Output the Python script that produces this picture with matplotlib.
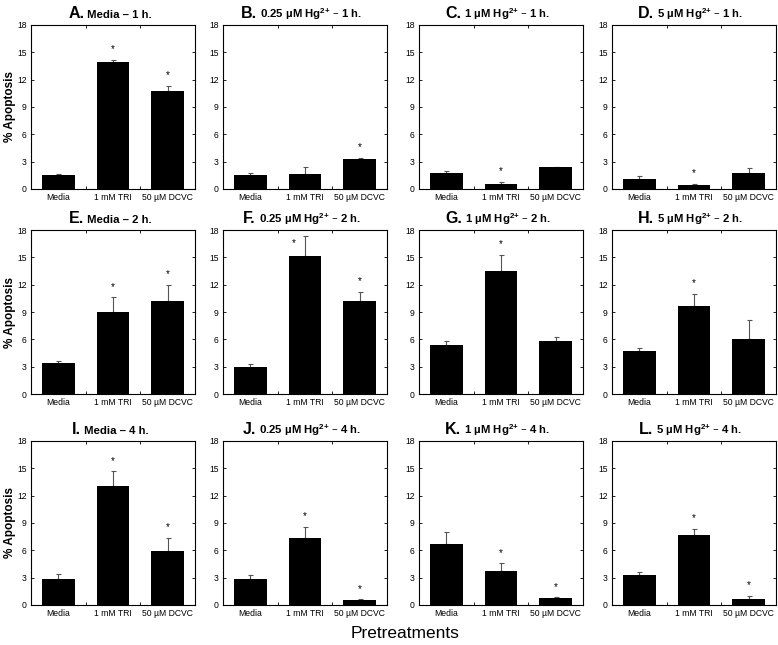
import numpy as np
import matplotlib
matplotlib.use("Agg")
import matplotlib.pyplot as plt
from matplotlib.ticker import FixedLocator

plt.rcParams['font.family'] = ['Liberation Sans', 'DejaVu Sans']
plt.rcParams['mathtext.default'] = 'regular'

categories = ["Media", "1 mM TRI", "50 µM DCVC"]
letters = ["A.", "B.", "C.", "D.", "E.", "F.", "G.", "H.", "I.", "J.", "K.", "L."]
titles = ["Media – 1 h.", "0.25 µM Hg$^{2{+}}$ – 1 h.", "1 µM Hg$^{2{+}}$ – 1 h.", "5 µM Hg$^{2{+}}$ – 1 h.",
          "Media – 2 h.", "0.25 µM Hg$^{2{+}}$ – 2 h.", "1 µM Hg$^{2{+}}$ – 2 h.", "5 µM Hg$^{2{+}}$ – 2 h.",
          "Media – 4 h.", "0.25 µM Hg$^{2{+}}$ – 4 h.", "1 µM Hg$^{2{+}}$ – 4 h.", "5 µM Hg$^{2{+}}$ – 4 h."]

# % apoptosis (mean) for Media, 1 mM TRI, 50 µM DCVC
means = [
    [1.5, 13.9, 10.8],
    [1.5, 1.7, 3.25],
    [1.8, 0.6, 2.4],
    [1.15, 0.45, 1.75],
    [3.35, 9.0, 10.2],
    [3.0, 15.1, 10.2],
    [5.4, 13.5, 5.8],
    [4.7, 9.7, 6.0],
    [2.85, 13.1, 5.95],
    [2.8, 7.4, 0.5],
    [6.75, 3.7, 0.75],
    [3.3, 7.65, 0.7],
]
errors = [
    [0.1, 0.3, 0.5],
    [0.3, 0.7, 0.15],
    [0.15, 0.2, 0.0],
    [0.25, 0.15, 0.6],
    [0.3, 1.6, 1.8],
    [0.3, 2.2, 1.0],
    [0.45, 1.8, 0.5],
    [0.3, 1.3, 2.1],
    [0.6, 1.6, 1.45],
    [0.5, 1.2, 0.15],
    [1.3, 0.9, 0.1],
    [0.3, 0.7, 0.3],
]
# which bars carry an asterisk
stars = [[1, 2], [2], [1], [1], [1, 2], [1, 2], [1], [1], [1, 2], [1, 2], [1, 2], [1, 2]]

W, H = 778, 645
fig = plt.figure(figsize=(W / 100, H / 100), dpi=100)

col_left = [31, 223, 419, 612]
col_w = 164
row_top = [25, 230, 441]
row_h = 164

x = np.arange(len(categories))
axes = []
for i in range(12):
    r, c = divmod(i, 4)
    ax = fig.add_axes([col_left[c] / W, 1 - (row_top[r] + row_h) / H, col_w / W, row_h / H])
    axes.append(ax)
    ax.bar(x, means[i], width=0.6, color='black', zorder=2)
    ax.errorbar(x, means[i], yerr=[np.zeros(3), errors[i]], fmt='none', ecolor='#555555',
                elinewidth=0.8, capsize=1.8, capthick=0.8, zorder=1)
    for j in stars[i]:
        top = means[i][j] + errors[i][j]
        if top > 16.5:
            # no room above the bar: star sits beside the error bar
            ax.text(x[j] - 0.2, 16.0, "*", ha='center', va='bottom', fontsize=7)
        else:
            ax.text(x[j], top + 0.6, "*", ha='center', va='bottom', fontsize=7)
    ax.set_xlim(-0.5, 2.5)
    ax.set_ylim(0, 18)
    ax.set_yticks(np.arange(0, 19, 3))
    ax.set_xticks(x)
    ax.set_xticklabels(categories, fontsize=6.2)
    ax.xaxis.set_minor_locator(FixedLocator([0.5, 1.5]))
    ax.tick_params(axis='x', which='major', length=0, pad=3)
    ax.tick_params(axis='x', which='minor', direction='in', length=2.5, top=True, bottom=True, width=0.6)
    ax.tick_params(axis='y', direction='in', length=2.5, right=True, labelsize=6.2, width=0.6, pad=3)
    for s in ax.spines.values():
        s.set_linewidth(0.8)
    if c == 0:
        ax.text(-0.13, 0.5, "% Apoptosis", transform=ax.transAxes, rotation=90,
                ha='center', va='center', fontsize=8.5, fontweight='bold')

# panel titles: big bold letter followed by smaller bold text, centred over each axes
pairs = []
for i, ax in enumerate(axes):
    t1 = ax.text(0.5, 1.04, letters[i], transform=ax.transAxes, fontsize=11.5,
                 fontweight='bold', ha='left', va='baseline')
    t2 = ax.text(0.5, 1.04, " " + titles[i], transform=ax.transAxes, fontsize=8.2,
                 fontweight='bold', ha='left', va='baseline')
    pairs.append((ax, t1, t2))

fig.canvas.draw()
r = fig.canvas.get_renderer()
for ax, t1, t2 in pairs:
    b1 = t1.get_window_extent(r)
    b2 = t2.get_window_extent(r)
    total = b1.width + b2.width
    axb = ax.get_window_extent(r)
    cx = (axb.x0 + axb.x1) / 2 - 3
    new_x0 = cx - total / 2
    t1.set_x((new_x0 - axb.x0) / axb.width)
    t2.set_x((new_x0 + b1.width - axb.x0) / axb.width)

fig.text(405 / W, 1 - 634 / H, "Pretreatments", ha='center', va='center', fontsize=12.5)

fig.savefig("out.png", dpi=100)
